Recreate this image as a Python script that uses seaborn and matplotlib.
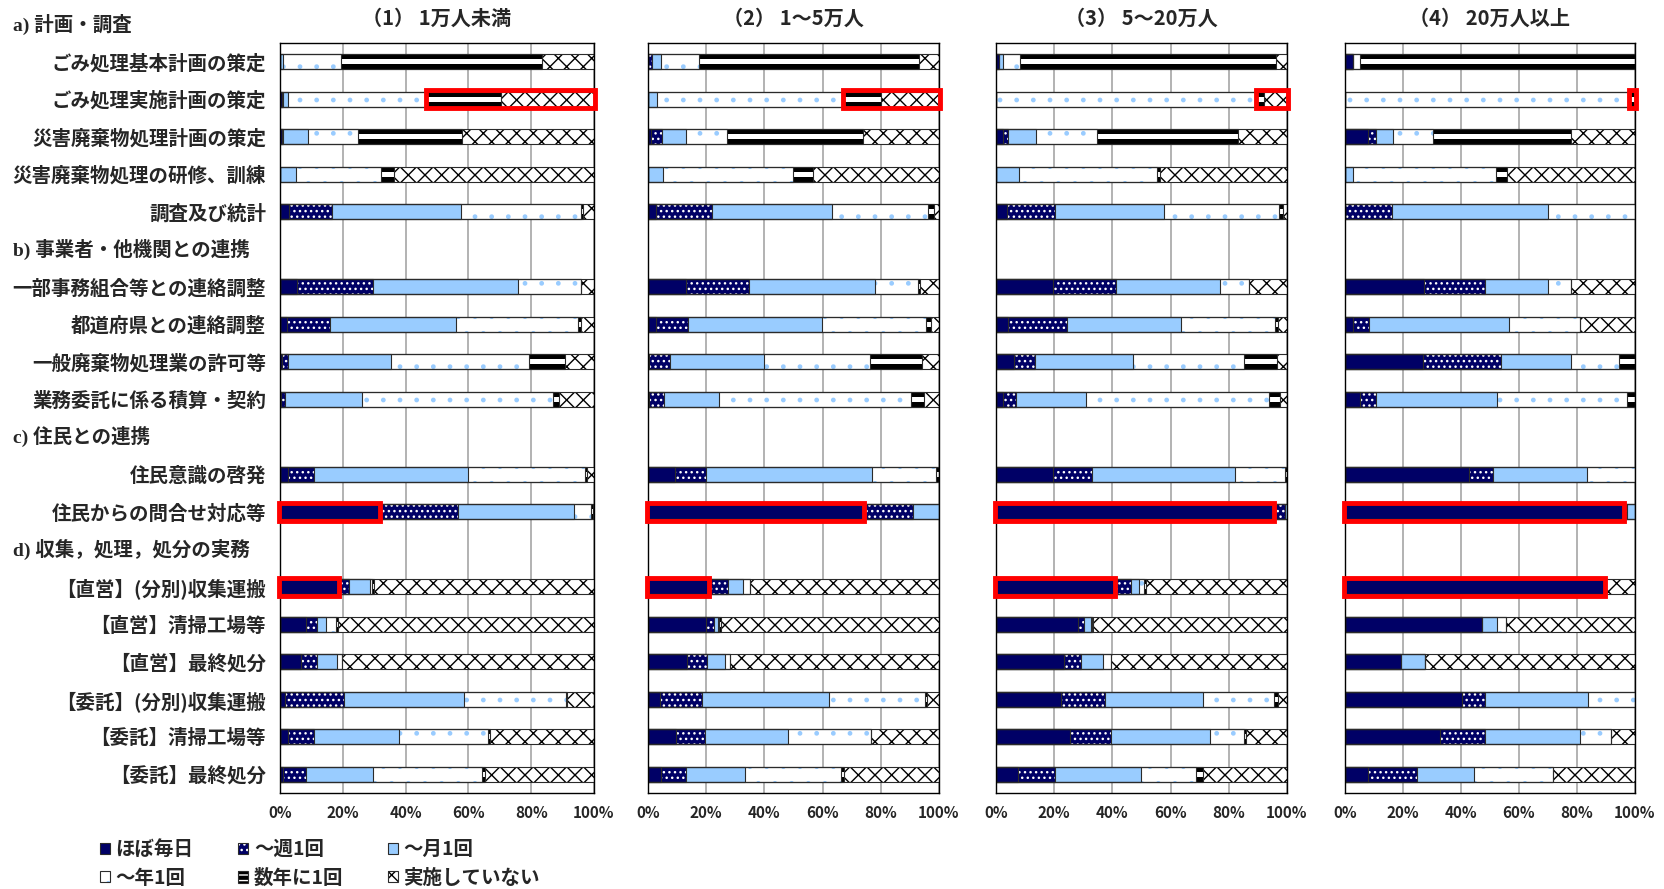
import matplotlib
matplotlib.use("Agg")
import matplotlib.pyplot as plt
from matplotlib import transforms
from matplotlib.patches import Patch, Rectangle
import numpy as np
import pandas as pd
import seaborn as sns

sns.set_theme(style="white")
plt.rcParams["font.family"] = ["Noto Sans CJK JP", "DejaVu Sans"]
plt.rcParams["hatch.linewidth"] = 1.0

# ---- data -----------------------------------------------------------------
CATEGORIES = ["ほぼ毎日", "～週1回", "～月1回", "～年1回", "数年に1回", "実施していない"]

PANEL_TITLES = ["（1） 1万人未満", "（2） 1～5万人", "（3） 5～20万人", "（4） 20万人以上"]

SECTION_A = "a) 計画・調査"
ITEMS_A = ["ごみ処理基本計画の策定", "ごみ処理実施計画の策定", "災害廃棄物処理計画の策定",
           "災害廃棄物処理の研修、訓練", "調査及び統計"]
SECTION_B = "b) 事業者・他機関との連携"
ITEMS_B = ["一部事務組合等との連絡調整", "都道府県との連絡調整", "一般廃棄物処理業の許可等",
           "業務委託に係る積算・契約"]
SECTION_C = "c) 住民との連携"
ITEMS_C = ["住民意識の啓発", "住民からの問合せ対応等"]
SECTION_D = "d) 収集，処理，処分の実務"
ITEMS_D = ["【直営】(分別)収集運搬", "【直営】清掃工場等", "【直営】最終処分",
           "【委託】(分別)収集運搬", "【委託】清掃工場等", "【委託】最終処分"]

# shares (%) per item, columns in CATEGORIES order
SIZE_1 = [
    [0.0, 0.0, 1.0, 18.4, 64.1, 16.5],
    [0.6, 0.3, 1.5, 44.5, 23.6, 29.5],
    [0.5, 0.6, 7.9, 15.9, 33.1, 42.0],
    [0.0, 0.0, 5.0, 27.3, 4.0, 63.7],
    [2.9, 13.7, 40.9, 38.5, 0.5, 3.5],
    [5.3, 24.4, 46.1, 20.0, 0.0, 4.2],
    [2.3, 13.6, 40.0, 39.0, 1.1, 4.0],
    [0.5, 1.9, 32.8, 44.0, 11.7, 9.1],
    [0.3, 1.4, 24.5, 60.8, 1.8, 11.2],
    [2.7, 8.2, 49.1, 37.1, 0.7, 2.2],
    [31.5, 25.2, 36.9, 5.6, 0.5, 0.3],
    [18.5, 3.6, 6.5, 0.6, 0.7, 70.1],
    [8.2, 3.5, 3.1, 3.0, 0.8, 81.4],
    [6.6, 5.1, 6.5, 1.4, 0.0, 80.4],
    [1.6, 18.8, 38.2, 32.4, 0.4, 8.6],
    [2.7, 8.2, 27.1, 28.3, 0.5, 33.2],
    [0.8, 7.5, 21.2, 34.7, 1.2, 34.6],
]
SIZE_2 = [
    [0.0, 1.4, 3.0, 13.0, 75.6, 7.0],
    [0.0, 0.0, 3.1, 64.1, 13.0, 19.8],
    [1.1, 3.8, 8.0, 14.4, 46.6, 26.1],
    [0.0, 0.0, 5.2, 44.6, 6.9, 43.3],
    [2.6, 19.4, 41.3, 32.9, 2.1, 1.7],
    [12.9, 21.8, 43.2, 14.9, 0.6, 6.6],
    [2.6, 11.1, 46.2, 35.5, 2.0, 2.6],
    [0.5, 7.2, 32.0, 36.5, 18.1, 5.7],
    [0.5, 5.0, 18.8, 66.2, 4.2, 5.3],
    [9.4, 10.4, 57.2, 22.1, 0.9, 0.0],
    [73.9, 17.2, 8.9, 0.0, 0.0, 0.0],
    [20.6, 6.9, 5.1, 2.3, 0.3, 64.8],
    [20.0, 2.6, 1.5, 0.3, 0.6, 75.0],
    [13.5, 6.9, 6.2, 1.5, 0.0, 71.9],
    [4.0, 14.6, 43.6, 32.9, 0.8, 4.1],
    [9.7, 9.8, 28.7, 28.3, 0.0, 23.5],
    [4.4, 8.8, 20.1, 32.9, 1.2, 32.6],
]
SIZE_3 = [
    [1.1, 0.0, 1.4, 5.8, 87.9, 3.8],
    [0.0, 0.0, 0.0, 89.7, 2.3, 8.0],
    [2.5, 1.5, 9.8, 20.8, 48.4, 17.0],
    [0.0, 0.0, 8.0, 47.3, 0.9, 43.8],
    [3.7, 16.6, 37.6, 39.2, 1.5, 1.4],
    [19.7, 21.4, 36.0, 9.9, 0.0, 13.0],
    [4.0, 20.3, 39.2, 32.5, 0.8, 3.2],
    [6.2, 7.3, 33.7, 37.9, 11.5, 3.4],
    [2.5, 4.3, 24.2, 62.7, 3.8, 2.5],
    [19.5, 13.5, 49.0, 17.4, 0.6, 0.0],
    [95.4, 4.0, 0.6, 0.0, 0.0, 0.0],
    [40.6, 5.8, 2.7, 1.6, 0.7, 48.6],
    [28.3, 2.1, 2.3, 0.3, 0.3, 66.7],
    [23.2, 6.0, 7.7, 2.5, 0.0, 60.6],
    [22.4, 14.9, 33.8, 24.3, 1.4, 3.2],
    [25.5, 14.1, 33.8, 11.9, 0.7, 14.0],
    [7.5, 12.8, 29.6, 18.9, 2.3, 28.9],
]
SIZE_4 = [
    [2.8, 0.0, 0.0, 2.5, 94.7, 0.0],
    [0.0, 0.0, 0.0, 98.3, 1.7, 0.0],
    [7.9, 2.9, 5.8, 13.7, 47.5, 22.2],
    [0.0, 0.0, 2.6, 49.6, 3.5, 44.3],
    [0.0, 16.2, 53.9, 29.9, 0.0, 0.0],
    [27.2, 21.0, 21.9, 8.0, 0.0, 21.9],
    [2.6, 5.6, 48.3, 24.4, 0.0, 19.1],
    [26.9, 27.0, 24.2, 16.4, 5.5, 0.0],
    [5.3, 5.5, 41.7, 44.6, 2.9, 0.0],
    [42.9, 8.2, 32.4, 16.5, 0.0, 0.0],
    [95.8, 1.3, 2.9, 0.0, 0.0, 0.0],
    [89.3, 0.0, 0.0, 0.0, 0.0, 10.7],
    [47.1, 0.0, 5.4, 3.1, 0.0, 44.4],
    [19.4, 0.0, 8.1, 0.0, 0.0, 72.5],
    [40.2, 8.2, 35.4, 16.2, 0.0, 0.0],
    [32.6, 15.8, 32.6, 10.8, 0.0, 8.2],
    [7.9, 17.1, 19.4, 27.4, 0.0, 28.2],
]

# highlighted segments: (item, first category, last category)
HIGHLIGHT_1 = [("ごみ処理実施計画の策定", 4, 5), ("住民からの問合せ対応等", 0, 0), ("【直営】(分別)収集運搬", 0, 0)]
HIGHLIGHT_2 = [("ごみ処理実施計画の策定", 4, 5), ("住民からの問合せ対応等", 0, 0), ("【直営】(分別)収集運搬", 0, 0)]
HIGHLIGHT_3 = [("ごみ処理実施計画の策定", 4, 5), ("住民からの問合せ対応等", 0, 0), ("【直営】(分別)収集運搬", 0, 0)]
HIGHLIGHT_4 = [("ごみ処理実施計画の策定", 4, 4), ("住民からの問合せ対応等", 0, 0), ("【直営】(分別)収集運搬", 0, 0)]

# ---- styles ----------------------------------------------------------------
NAVY = "#000066"
LIGHT_BLUE = "#99CCFF"
OUTLINE = "#2b2b2b"
# (face colour, hatch, hatch colour)
SEG_STYLE = [
    (NAVY, None, NAVY),
    (NAVY, "...", "white"),
    (LIGHT_BLUE, None, LIGHT_BLUE),
    ("white", ".", LIGHT_BLUE),
    ("black", None, "black"),
    ("white", "xx", "black"),
]

# slot positions: each section header takes one row, starting above the axes
sections = [(SECTION_A, ITEMS_A), (SECTION_B, ITEMS_B), (SECTION_C, ITEMS_C), (SECTION_D, ITEMS_D)]
header_pos, item_pos, item_labels = [], [], []
slot = -1
for head, items in sections:
    header_pos.append(slot)
    slot += 1
    for it in items:
        item_pos.append(slot)
        item_labels.append(it)
        slot += 1
item_pos = np.array(item_pos)
pos_of = dict(zip(item_labels, item_pos))

W, H = 1665, 889
fig = plt.figure(figsize=(W / 100, H / 100), dpi=100)

panel_px = [(280, 314), (648, 291), (996, 291), (1345, 290)]
ax_bottom = 1 - 793 / H
ax_height = 750 / H

panels = [SIZE_1, SIZE_2, SIZE_3, SIZE_4]
highlights = [HIGHLIGHT_1, HIGHLIGHT_2, HIGHLIGHT_3, HIGHLIGHT_4]

axes = []
for p, (values, boxes, title) in enumerate(zip(panels, highlights, PANEL_TITLES)):
    left_px, width_px = panel_px[p]
    ax = fig.add_axes([left_px / W, ax_bottom, width_px / W, ax_height])
    axes.append(ax)

    df = pd.DataFrame(values, columns=CATEGORIES)
    df["pos"] = item_pos
    cum = df[CATEGORIES].cumsum(axis=1)

    # stacked bars drawn back to front as cumulative totals
    for k in reversed(range(len(CATEGORIES))):
        face, hatch, hcol = SEG_STYLE[k]
        sns.barplot(x=cum[CATEGORIES[k]], y=df["pos"], orient="y", native_scale=True,
                    width=0.4, color=face, saturation=1, edgecolor=hcol, linewidth=0,
                    hatch=hatch, errorbar=None, ax=ax)
        if k == 4:
            # white stripe through the "数年に1回" band
            sns.barplot(x=cum[CATEGORIES[k]], y=df["pos"], orient="y", native_scale=True,
                        width=0.13, color="white", saturation=1, edgecolor="white",
                        linewidth=0, errorbar=None, ax=ax)
    for k in range(len(CATEGORIES)):
        sns.barplot(x=cum[CATEGORIES[k]], y=df["pos"], orient="y", native_scale=True,
                    width=0.4, fill=False, color=OUTLINE, linewidth=0.8,
                    errorbar=None, ax=ax)

    # red highlight boxes
    for item, k0, k1 in boxes:
        y = pos_of[item]
        row = df.loc[df["pos"] == y, CATEGORIES].iloc[0].to_numpy()
        x0 = row[:k0].sum()
        x1 = row[:k1 + 1].sum()
        ax.add_patch(Rectangle((x0 - 0.3, y - 0.24), x1 - x0 + 0.6, 0.48, fill=False,
                               edgecolor="#FF0000", linewidth=3.5, clip_on=False, zorder=6))

    ax.set_xlim(0, 100)
    ax.set_ylim(19.5, -0.5)
    ax.set_xlabel("")
    ax.set_ylabel("")
    ticks = [0, 20, 40, 60, 80, 100]
    ax.set_xticks(ticks)
    ax.set_xticklabels([f"{t}%" for t in ticks], fontsize=11, fontweight="bold")
    ax.tick_params(axis="x", length=0, pad=9)
    ax.tick_params(axis="y", length=0, pad=10)
    ax.xaxis.grid(True, color="#A6A6A6", linewidth=1.2)
    ax.yaxis.grid(False)
    ax.set_axisbelow(True)
    for sp in ax.spines.values():
        sp.set_color("black")
        sp.set_linewidth(1.0)
    if p == 0:
        ax.set_yticks(item_pos)
        ax.set_yticklabels(item_labels, fontsize=14, fontweight="bold")
    else:
        ax.set_yticks([])

    fig.text((left_px + width_px / 2) / W, 1 - 18 / H, title, ha="center", va="center",
             fontsize=14.5, fontweight="bold")

# section headers on the left
trans = transforms.blended_transform_factory(fig.transFigure, axes[0].transData)
for (head, _), ypos in zip(sections, header_pos):
    fig.text(13 / W, ypos, head, transform=trans, ha="left", va="center",
             fontsize=14, fontweight="bold",
             family=["Liberation Serif", "Noto Sans CJK JP"])

# legend (column-major fill: 3 columns x 2 rows)
def seg_handle(k):
    face, hatch, hcol = SEG_STYLE[k]
    fill = Patch(facecolor=face, edgecolor=hcol, hatch=hatch, linewidth=0)
    edge = Patch(facecolor="none", edgecolor=OUTLINE, linewidth=0.8)
    if k == 4:
        fill = Patch(facecolor=face, edgecolor="white", hatch="---", linewidth=0)
    return (fill, edge)

order = [0, 3, 1, 4, 2, 5]
fig.legend([seg_handle(k) for k in order], [CATEGORIES[k] for k in order],
           ncol=3, loc="upper left", bbox_to_anchor=(100 / W, 1 - 840 / H),
           frameon=False, prop={"size": 14, "weight": "bold"},
           handlelength=0.5, handleheight=0.5, handletextpad=0.3,
           columnspacing=2.3, labelspacing=0.5, borderpad=0, borderaxespad=0)

fig.savefig("out.png", dpi=100)
